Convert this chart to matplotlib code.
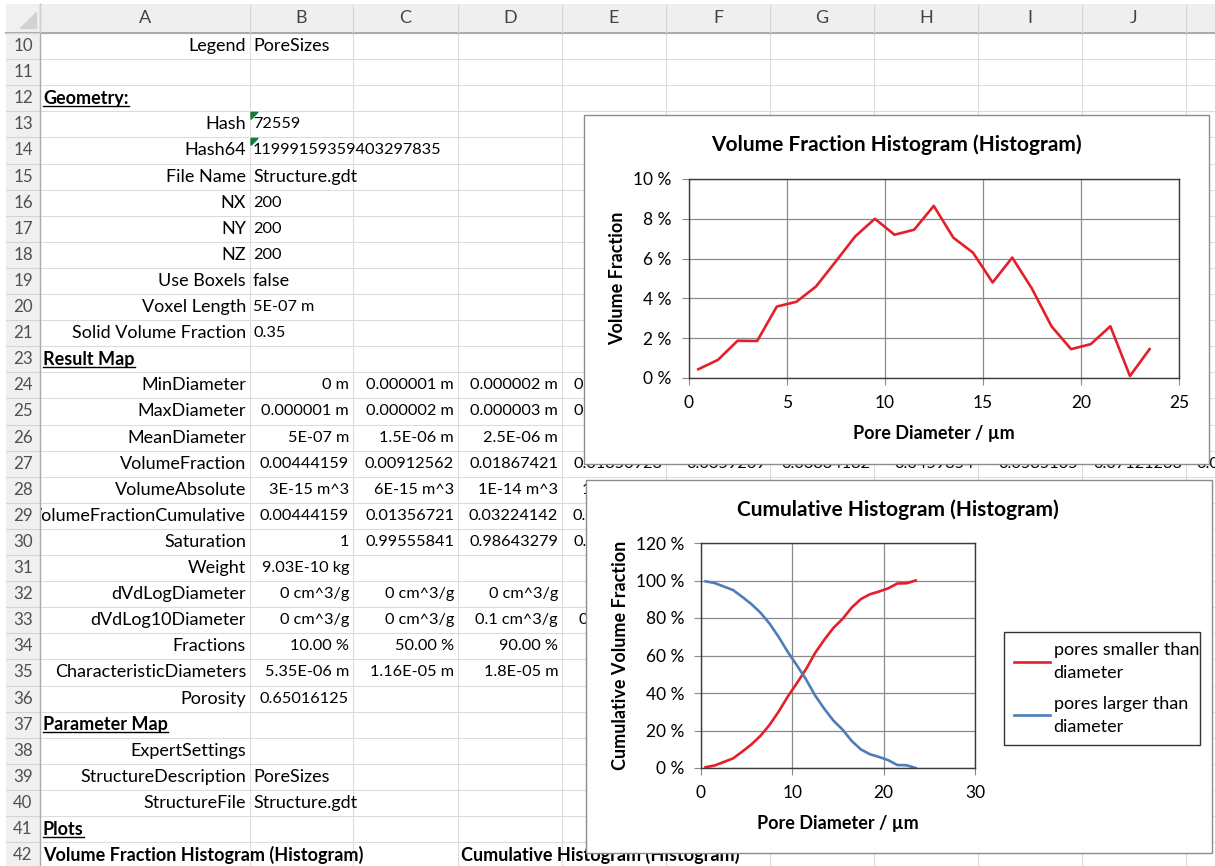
import matplotlib.pyplot as plt
from matplotlib.patches import Rectangle, Polygon
from matplotlib.ticker import FuncFormatter, MultipleLocator

plt.rcParams['font.family'] = ['Lato', 'DejaVu Sans']

# ---- chart data ----
pore_diameter = [0.5, 1.5, 2.5, 3.5, 4.5, 5.5, 6.5, 7.5, 8.5, 9.5, 10.5, 11.5,
                 12.5, 13.5, 14.5, 15.5, 16.5, 17.5, 18.5, 19.5, 20.5, 21.5, 22.5, 23.5]
volume_fraction = [0.44, 0.91, 1.87, 1.86, 3.59, 3.83, 4.60, 5.85, 7.12, 8.00, 7.20, 7.45,
                   8.65, 7.05, 6.30, 4.80, 6.05, 4.50, 2.60, 1.45, 1.70, 2.60, 0.10, 1.45]
cum_smaller = [0.44, 1.36, 3.22, 5.08, 8.67, 12.50, 17.10, 22.95, 30.07, 38.07, 45.27, 52.72,
               61.37, 68.42, 74.72, 79.52, 85.57, 90.07, 92.67, 94.12, 95.82, 98.42, 98.52, 100.0]
cum_larger = [99.56, 98.64, 96.78, 94.92, 91.33, 87.50, 82.90, 77.05, 69.93, 61.93, 54.73, 47.28,
              38.63, 31.58, 25.28, 20.48, 14.43, 9.93, 7.33, 5.88, 4.18, 1.58, 1.48, 0.0]

# ---- spreadsheet content ----
col_letters = ['A', 'B', 'C', 'D', 'E', 'F', 'G', 'H', 'I', 'J']
row_numbers = [10, 11, 12, 13, 14, 15, 16, 17, 18, 19, 20, 21, 23, 24, 25, 26, 27, 28, 29, 30,
               31, 32, 33, 34, 35, 36, 37, 38, 39, 40, 41, 42]
headings = {12: 'Geometry:', 23: 'Result Map', 37: 'Parameter Map', 41: 'Plots'}
labels = {10: 'Legend', 13: 'Hash', 14: 'Hash64', 15: 'File Name', 16: 'NX', 17: 'NY', 18: 'NZ',
          19: 'Use Boxels', 20: 'Voxel Length', 21: 'Solid Volume Fraction',
          24: 'MinDiameter', 25: 'MaxDiameter', 26: 'MeanDiameter', 27: 'VolumeFraction',
          28: 'VolumeAbsolute', 29: 'VolumeFractionCumulative', 30: 'Saturation', 31: 'Weight',
          32: 'dVdLogDiameter', 33: 'dVdLog10Diameter', 34: 'Fractions',
          35: 'CharacteristicDiameters', 36: 'Porosity', 38: 'ExpertSettings',
          39: 'StructureDescription', 40: 'StructureFile'}
text_values = {10: 'PoreSizes', 13: '72559', 14: '11999159359403297835', 15: 'Structure.gdt',
               16: '200', 17: '200', 18: '200', 19: 'false', 20: '5E-07 m', 21: '0.35',
               39: 'PoreSizes', 40: 'Structure.gdt'}
num_values = {
    24: ['0 m', '0.000001 m', '0.000002 m', '0.000003 m'],
    25: ['0.000001 m', '0.000002 m', '0.000003 m', '0.000004 m'],
    26: ['5E-07 m', '1.5E-06 m', '2.5E-06 m', '3.5E-06 m'],
    27: ['0.00444159', '0.00912562', '0.01867421', '0.01856923', '0.0359269', '0.03834182',
          '0.0459854', '0.0585165', '0.07121233', '0.08000342'],
    28: ['3E-15 m^3', '6E-15 m^3', '1E-14 m^3', '1E-14 m^3'],
    29: ['0.00444159', '0.01356721', '0.03224142', '0.05081065'],
    30: ['1', '0.99555841', '0.98643279', '0.96775858'],
    31: ['9.03E-10 kg'],
    32: ['0 cm^3/g', '0 cm^3/g', '0 cm^3/g', '0 cm^3/g'],
    33: ['0 cm^3/g', '0 cm^3/g', '0.1 cm^3/g', '0.1 cm^3/g'],
    34: ['10.00 %', '50.00 %', '90.00 %'],
    35: ['5.35E-06 m', '1.16E-05 m', '1.8E-05 m'],
    36: ['0.65016125'],
}
plot_titles = ['Volume Fraction Histogram (Histogram)', 'Cumulative Histogram (Histogram)']

W, H = 1215, 866
col_edges = [40, 250, 353, 458, 562, 666, 770, 874, 978, 1082, 1186, 1290]
row_top0, row_h = 33, 26.1
red = '#E3202A'
blue = '#4E7DB8'
cell_fs = 13
val_fs = 11.7   # Lato digits run wider than the sheet's font


def size_for(s):
    return val_fs if any(ch.isdigit() for ch in s) else cell_fs


fig = plt.figure(figsize=(W / 100, H / 100), dpi=100)
bg = fig.add_axes([0, 0, 1, 1])
bg.set_xlim(0, W)
bg.set_ylim(H, 0)
bg.axis('off')


def row_center(r):
    return row_top0 + row_numbers.index(r) * row_h + row_h / 2


# grid lines
for k in range(len(row_numbers) + 1):
    y = row_top0 + k * row_h
    bg.plot([40, W], [y, y], color='#DCDCDC', lw=0.8, zorder=1)
for x in col_edges:
    bg.plot([x, x], [33, H], color='#DCDCDC', lw=0.8, zorder=1)

# cell texts
for r in row_numbers:
    y = row_center(r)
    if r in labels:
        bg.text(246, y, labels[r], ha='right', va='center', fontsize=cell_fs, zorder=3)
    if r in text_values:
        s = text_values[r]
        bg.text(253, y, s, ha='left', va='center', fontsize=size_for(s), zorder=3)
    if r in num_values:
        for j, v in enumerate(num_values[r]):
            bg.text(col_edges[j + 2] - 4, y, v, ha='right', va='center', fontsize=size_for(v),
                    zorder=3)

heading_texts = []
for r, s in headings.items():
    heading_texts.append(bg.text(43, row_center(r), s, ha='left', va='center',
                                 fontsize=cell_fs, fontweight='bold', zorder=3))
bg.text(43, row_center(42), plot_titles[0], ha='left', va='center', fontsize=cell_fs,
        fontweight='bold', zorder=3)
bg.text(col_edges[3] + 3, row_center(42), plot_titles[1], ha='left', va='center',
        fontsize=cell_fs, fontweight='bold', zorder=3)

# green error triangles on Hash cells
for r in [13, 14]:
    yt = row_center(r) - row_h / 2 + 1
    bg.add_patch(Polygon([[251, yt], [258, yt], [251, yt + 7]], closed=True,
                         color='#1D7A32', zorder=4))

# column header band and row header column (drawn over overflowing text)
bg.add_patch(Rectangle((6, 4), W - 6, 29, facecolor='#EFEFEF', edgecolor='none', zorder=5))
bg.add_patch(Rectangle((6, 4), 34, H - 4, facecolor='#F0F0F0', edgecolor='none', zorder=5))
bg.plot([6, W], [32.5, 32.5], color='#ABABAB', lw=1.5, zorder=6)
bg.plot([39.5, 39.5], [4, H], color='#ABABAB', lw=1.0, zorder=6)
for x in col_edges:
    bg.plot([x, x], [5, 32], color='#D4D4D4', lw=0.8, zorder=6)
for k in range(len(row_numbers) + 1):
    y = row_top0 + k * row_h
    bg.plot([6, 39], [y, y], color='#D4D4D4', lw=0.8, zorder=6)
bg.add_patch(Polygon([[20, 28], [36, 28], [36, 12]], closed=True, color='#D2D2D2', zorder=6))
for j, c in enumerate(col_letters):
    bg.text((col_edges[j] + col_edges[j + 1]) / 2, 18, c, ha='center', va='center',
            fontsize=cell_fs, color='#444444', zorder=7)
for r in row_numbers:
    bg.text(23, row_center(r), str(r), ha='center', va='center', fontsize=val_fs + 0.5,
            color='#505050', zorder=7)

# chart boxes
bg.add_patch(Rectangle((584, 115), 625, 349, facecolor='white', edgecolor='#8C8C8C',
                       lw=1, zorder=10))
bg.add_patch(Rectangle((586, 480), 626, 373, facecolor='white', edgecolor='#8C8C8C',
                       lw=1, zorder=10))

# underline headings
fig.canvas.draw()
inv = bg.transData.inverted()
for t in heading_texts:
    bb = t.get_window_extent()
    (x0, y0), (x1, y1) = inv.transform([[bb.x0, bb.y0], [bb.x1, bb.y1]])
    bg.plot([x0, x1], [y0 - 1, y0 - 1], color='black', lw=1, zorder=3)

pct = FuncFormatter(lambda v, p: '%d %%' % v)


def style_axes(ax):
    ax.grid(True, color='#8A8A8A', lw=0.9)
    ax.set_axisbelow(True)
    for s in ax.spines.values():
        s.set_color('#3A3A3A')
        s.set_linewidth(1.0)
    ax.tick_params(direction='out', length=5, color='#8A8A8A', labelsize=12.5, pad=7)
    ax.yaxis.set_major_formatter(pct)


# Volume fraction histogram
ax1 = fig.add_axes([688.5 / W, 1 - 378 / H, 490.5 / W, 199 / H])
ax1.plot(pore_diameter, volume_fraction, color=red, lw=1.9)
ax1.set_xlim(0, 25)
ax1.set_ylim(0, 10)
ax1.xaxis.set_major_locator(MultipleLocator(5))
ax1.yaxis.set_major_locator(MultipleLocator(2))
style_axes(ax1)
ax1.set_title(plot_titles[0], fontsize=15, fontweight='bold', x=0.423, pad=20.5)
ax1.set_xlabel('Pore Diameter / µm', fontsize=cell_fs, fontweight='bold', labelpad=10)
ax1.set_ylabel('Volume Fraction', fontsize=cell_fs, fontweight='bold', labelpad=5)

# Cumulative histogram
ax2 = fig.add_axes([701 / W, 1 - 768 / H, 274 / W, 225 / H])
ax2.plot(pore_diameter, cum_smaller, color=red, lw=1.9, label='pores smaller than\ndiameter')
ax2.plot(pore_diameter, cum_larger, color=blue, lw=1.9, label='pores larger than\ndiameter')
ax2.set_xlim(0, 30)
ax2.set_ylim(0, 120)
ax2.xaxis.set_major_locator(MultipleLocator(10))
ax2.yaxis.set_major_locator(MultipleLocator(20))
style_axes(ax2)
ax2.set_title(plot_titles[1], fontsize=15, fontweight='bold', x=0.719, pad=19.7)
ax2.set_xlabel('Pore Diameter / µm', fontsize=cell_fs, fontweight='bold', labelpad=10)
ax2.set_ylabel('Cumulative Volume Fraction', fontsize=cell_fs, fontweight='bold', labelpad=5)
leg = ax2.legend(loc='upper left', bbox_to_anchor=(1004 / W, 1 - 632 / H, 196 / W, 0),
                 bbox_transform=fig.transFigure, mode='expand', fontsize=cell_fs,
                 frameon=True, fancybox=False, handlelength=2.0, handletextpad=0.2,
                 borderpad=0.55, labelspacing=0.8, borderaxespad=0)
leg.get_frame().set_edgecolor('black')
leg.get_frame().set_linewidth(1)
for t in leg.get_texts():
    t.set_linespacing(1.55)

plt.savefig('out.png', dpi=100)
